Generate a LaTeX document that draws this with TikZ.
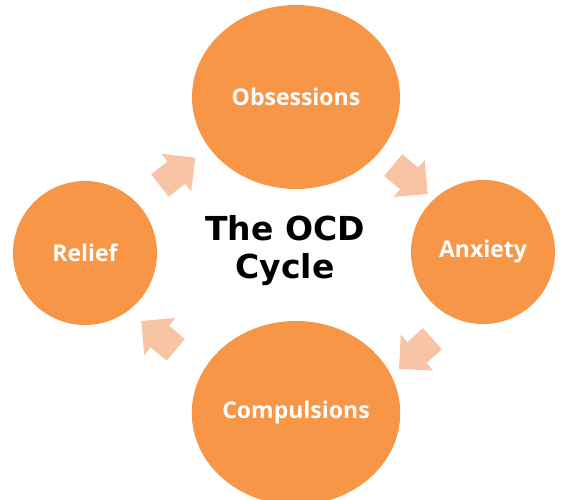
\documentclass[tikz,border=0pt]{standalone}
\usepackage{fontspec}
\usetikzlibrary{shapes.geometric,shapes.arrows}
\newfontfamily\ocdLabelFont{Open Sans}
\newfontfamily\ocdTitleFont{DejaVu Sans}
\definecolor{OcdOrange}{HTML}{F79646}
\definecolor{OcdPeach}{HTML}{F8C4A6}
\tikzset{
  bigstage/.style={ellipse,fill=OcdOrange,inner sep=0pt,
    minimum width=208pt,minimum height=184pt,text=white,
    font=\ocdLabelFont\bfseries\fontsize{23}{27}\selectfont},
  smallstage/.style={bigstage,minimum width=144pt,minimum height=144pt},
  cyclearrow/.style={single arrow,fill=OcdPeach,draw=none,
    inner xsep=0pt,inner ysep=14pt,
    minimum height=45pt,minimum width=48pt,single arrow head extend=10pt}
}

\begin{document}
\begin{tikzpicture}[x=1pt,y=-1pt]

        \useasboundingbox (0,0) rectangle (575,500);
        \clip (0,0) rectangle (575,500);

        \node[bigstage] (obs) at (296,97) {Obsessions};
        \node[smallstage] (anx) at (483,252) {Anxiety};
        \node[bigstage] (comp) at (296,413) {Compulsions};
        \node[smallstage] (relief) at (85,253) {Relief};

        \node[cyclearrow,rotate=38] (relief-obs) at (172,176) {};
        \node[cyclearrow,rotate=-40] (obs-anx) at (405,175) {};
        \node[cyclearrow,rotate=222] (anx-comp) at (421,349) {};
        \node[cyclearrow,rotate=140] (comp-relief) at (164,340) {};

        \node[align=center,
          font=\ocdTitleFont\bfseries\fontsize{33}{38}\selectfont]
          (title) at (285,251) {The OCD\\Cycle};

      \end{tikzpicture}
\end{document}
